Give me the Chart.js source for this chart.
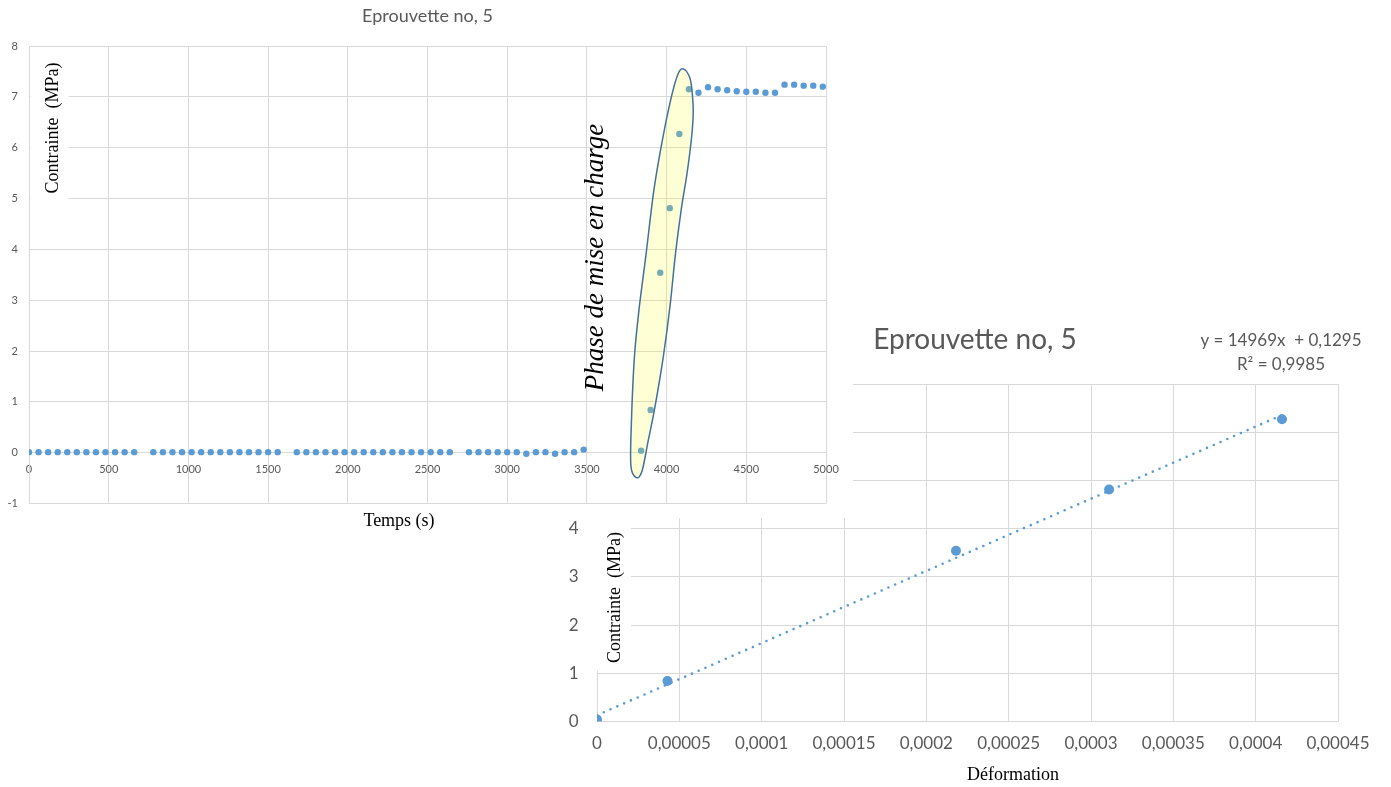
<!DOCTYPE html>
<html>
<head>
<meta charset="utf-8">
<script src="https://cdn.jsdelivr.net/npm/chart.js@4.4.0/dist/chart.umd.min.js"></script>
<style>
  html, body { margin: 0; padding: 0; background: #fff; }
  body { width: 1391px; height: 787px; position: relative; overflow: hidden; }
  #strainChart { position: absolute; left: 540px; top: 300px; }
  #timeChart { position: absolute; left: 0; top: 0; z-index: 2; }
</style>
</head>
<body>
<canvas id="strainChart" width="851" height="487"></canvas>
<canvas id="timeChart" width="860" height="540"></canvas>
<script>
// ---- Test no. 5: stress versus time ----
const timeSeconds = [
  0, 60, 120, 180, 240, 300, 360, 420, 480, 540, 600, 660,
  780, 840, 900, 960, 1020, 1080, 1140, 1200, 1260, 1320, 1380, 1440, 1500, 1560,
  1680, 1740, 1800, 1860, 1920, 1980, 2040, 2100, 2160, 2220, 2280, 2340, 2400, 2460, 2520, 2580, 2640,
  2760, 2820, 2880, 2940, 3000, 3060, 3120, 3180, 3240, 3300, 3360, 3420, 3480,
  3840, 3900, 3960, 4020, 4080, 4140, 4200, 4260, 4320, 4380, 4440, 4500, 4560, 4620, 4680,
  4740, 4800, 4860, 4920, 4980
];
const stressMPa = [
  0.01, 0.01, 0.01, 0.01, 0.01, 0.01, 0.01, 0.01, 0.01, 0.01, 0.01, 0.01,
  0.01, 0.01, 0.01, 0.01, 0.01, 0.01, 0.01, 0.01, 0.01, 0.01, 0.01, 0.01, 0.01, 0.01,
  0.01, 0.01, 0.01, 0.01, 0.01, 0.01, 0.01, 0.01, 0.01, 0.01, 0.01, 0.01, 0.01, 0.01, 0.01, 0.01, 0.01,
  0.01, 0.01, 0.01, 0.01, 0.01, 0.01, -0.02, 0.01, 0.01, -0.02, 0.01, 0.01, 0.06,
  0.04, 0.84, 3.54, 4.81, 6.27, 7.15, 7.08, 7.19, 7.15, 7.13, 7.11, 7.10, 7.10, 7.08, 7.08,
  7.24, 7.24, 7.22, 7.22, 7.20
];

// Outline of the loading-phase highlight, in (time s, stress MPa)
const loadingOutline = [
  [4105, 7.55], [4145, 7.38], [4160, 7.10], [4167, 6.70], [4157, 6.21], [4128, 5.49],
  [4094, 4.83], [4056, 3.92], [4021, 2.87], [3979, 1.88], [3927, 0.90], [3885, 0.24],
  [3846, -0.36], [3810, -0.49], [3776, -0.26], [3779, 0.58], [3798, 1.88], [3829, 2.87],
  [3869, 3.85], [3920, 5.16], [3973, 6.14], [4030, 7.00], [4073, 7.46]
];

// ---- Test no. 5: stress versus strain during loading ----
const strainLoading = [0, 0.0000428, 0.000218, 0.000311, 0.000416];
const stressLoading = [0.04, 0.84, 3.54, 4.81, 6.27];
const trendSlope = 14969;
const trendIntercept = 0.1295;
const trendR2 = 0.9985;

// Axis ranges
const timeAxis = { min: 0, max: 5000, step: 500 };
const stressAxisTime = { min: -1, max: 8, step: 1 };
const strainAxis = { min: 0, max: 0.00045, step: 0.00005 };
const stressAxisStrain = { min: 0, max: 7, step: 1 };

const chartTitle = 'Eprouvette no, 5';
const stressTitle = 'Contrainte  (MPa)';
const timeTitle = 'Temps (s)';
const strainTitle = 'Déformation';
const phaseLabel = 'Phase de mise en charge';

const BLUE = '#5B9BD5';
const GRID = '#D9D9D9';
const TEXT = '#595959';

const frNum = v => String(+Number(v).toFixed(6)).replace('.', ',');

function closedSpline(ctx, pts) {
  const n = pts.length;
  ctx.beginPath();
  ctx.moveTo(pts[0][0], pts[0][1]);
  for (let i = 0; i < n; i++) {
    const p0 = pts[(i - 1 + n) % n], p1 = pts[i], p2 = pts[(i + 1) % n], p3 = pts[(i + 2) % n];
    ctx.bezierCurveTo(
      p1[0] + (p2[0] - p0[0]) / 6, p1[1] + (p2[1] - p0[1]) / 6,
      p2[0] - (p3[0] - p1[0]) / 6, p2[1] - (p3[1] - p1[1]) / 6,
      p2[0], p2[1]
    );
  }
  ctx.closePath();
}

function rotatedText(ctx, text, x, y, font, color, baseline) {
  ctx.save();
  ctx.translate(x, y);
  ctx.rotate(-Math.PI / 2);
  ctx.font = font;
  ctx.fillStyle = color;
  ctx.textAlign = 'center';
  ctx.textBaseline = baseline || 'middle';
  ctx.fillText(text, 0, 0);
  ctx.restore();
}

function plainText(ctx, text, x, y, font, color) {
  ctx.save();
  ctx.font = font;
  ctx.fillStyle = color;
  ctx.textAlign = 'center';
  ctx.textBaseline = 'middle';
  ctx.fillText(text, x, y);
  ctx.restore();
}

const timeDecor = {
  id: 'timeDecor',
  beforeDraw(chart) {
    const ctx = chart.ctx;
    ctx.save();
    ctx.fillStyle = '#fff';
    ctx.fillRect(0, 0, 853, 518);
    ctx.restore();
  },
  beforeDatasetsDraw(chart) {
    const { ctx, chartArea: a } = chart;
    ctx.save();
    ctx.fillStyle = '#fff';
    ctx.fillRect(a.left + 1.5, a.top + 9, 38, 148);
    ctx.restore();
    rotatedText(ctx, stressTitle, a.left + 24, a.top + 82, '18px "Liberation Serif"', '#000');
  },
  afterDatasetsDraw(chart) {
    const { ctx, scales: { x, y } } = chart;
    const pts = loadingOutline.map(([t, s]) => [x.getPixelForValue(t), y.getPixelForValue(s)]);
    ctx.save();
    closedSpline(ctx, pts);
    ctx.fillStyle = 'rgba(255, 255, 0, 0.16)';
    ctx.fill();
    ctx.lineWidth = 1.5;
    ctx.strokeStyle = '#41719C';
    ctx.stroke();
    ctx.restore();
  },
  afterDraw(chart) {
    const { ctx, chartArea: a } = chart;
    plainText(ctx, chartTitle, (a.left + a.right) / 2, a.top - 30, '18px Lato', TEXT);
    plainText(ctx, timeTitle, a.left + 370, a.bottom + 17.5, '18px "Liberation Serif"', '#000');
    rotatedText(ctx, phaseLabel, a.left + 574, a.top + 211.5, 'italic 27px "Liberation Serif"', '#000', 'alphabetic');
  }
};

new Chart(document.getElementById('timeChart'), {
  type: 'scatter',
  data: {
    datasets: [{
      data: timeSeconds.map((t, i) => ({ x: t, y: stressMPa[i] })),
      pointRadius: 3.2,
      pointBackgroundColor: BLUE,
      pointBorderWidth: 0,
      showLine: false
    }]
  },
  options: {
    responsive: false,
    animation: false,
    devicePixelRatio: 1,
    layout: { padding: { top: 46, left: 0, right: 34, bottom: 36.5 } },
    plugins: { legend: { display: false }, tooltip: { enabled: false }, title: { display: false } },
    scales: {
      x: {
        type: 'linear',
        position: { y: 0 },
        min: timeAxis.min, max: timeAxis.max,
        ticks: { stepSize: timeAxis.step, color: TEXT, font: { family: 'Lato', size: 11 }, padding: 10,
                 maxRotation: 0, autoSkip: false, callback: v => String(v) },
        grid: { color: GRID, drawTicks: false },
        border: { color: GRID },
        afterFit: s => { s.height = 0; }
      },
      y: {
        type: 'linear',
        min: stressAxisTime.min, max: stressAxisTime.max,
        ticks: { stepSize: stressAxisTime.step, color: TEXT, font: { family: 'Lato', size: 11 }, padding: 11,
                 callback: v => String(v) },
        grid: { color: GRID, drawTicks: false },
        border: { color: GRID },
        afterFit: s => { s.width = 29; }
      }
    }
  },
  plugins: [timeDecor]
});

const strainDecor = {
  id: 'strainDecor',
  beforeDraw(chart) {
    const ctx = chart.ctx;
    ctx.save();
    ctx.fillStyle = '#fff';
    ctx.fillRect(0, 0, chart.width, chart.height);
    ctx.restore();
  },
  beforeDatasetsDraw(chart) {
    const { ctx, chartArea: a } = chart;
    ctx.save();
    ctx.fillStyle = '#fff';
    ctx.fillRect(a.left - 11, a.top + 120, 45, a.bottom - a.top - 171);
    ctx.restore();
    rotatedText(ctx, stressTitle, a.left + 18, a.top + 213.5, '18px "Liberation Serif"', '#000');
  },
  afterDraw(chart) {
    const { ctx, chartArea: a } = chart;
    plainText(ctx, chartTitle, a.left + 378, a.top - 44, '28px Lato', TEXT);
    plainText(ctx, 'y = ' + frNum(trendSlope) + 'x  + ' + frNum(trendIntercept), a.left + 684, a.top - 43, '17px Lato', TEXT);
    plainText(ctx, 'R² = ' + frNum(trendR2), a.left + 684, a.top - 19, '17px Lato', TEXT);
    plainText(ctx, strainTitle, a.left + 416, a.bottom + 53.5, '18px "Liberation Serif"', '#000');
  }
};

const strainEnd = Math.max(...strainLoading);
new Chart(document.getElementById('strainChart'), {
  type: 'scatter',
  data: {
    datasets: [
      {
        data: strainLoading.map((e, i) => ({ x: e, y: stressLoading[i] })),
        pointRadius: 5,
        pointBackgroundColor: BLUE,
        pointBorderWidth: 0,
        showLine: false
      },
      {
        // linear trend y = a*x + b over the measured strain range
        data: [0, strainEnd].map(e => ({ x: e, y: trendSlope * e + trendIntercept })),
        showLine: true,
        pointRadius: 0,
        borderColor: BLUE,
        borderWidth: 2.6,
        borderDash: [0, 7.4],
        borderCapStyle: 'round',
        fill: false
      }
    ]
  },
  options: {
    responsive: false,
    animation: false,
    devicePixelRatio: 1,
    layout: { padding: { top: 84, left: 0, right: 53, bottom: 0 } },
    plugins: { legend: { display: false }, tooltip: { enabled: false }, title: { display: false } },
    scales: {
      x: {
        type: 'linear',
        min: strainAxis.min, max: strainAxis.max,
        ticks: { stepSize: strainAxis.step, color: TEXT, font: { family: 'Lato', size: 17 }, padding: 12,
                 maxRotation: 0, autoSkip: false, callback: v => frNum(v) },
        grid: { color: GRID, drawTicks: false },
        border: { color: GRID },
        afterFit: s => { s.height = 65.5; }
      },
      y: {
        type: 'linear',
        min: stressAxisStrain.min, max: stressAxisStrain.max,
        ticks: { stepSize: stressAxisStrain.step, color: TEXT, font: { family: 'Lato', size: 17 }, padding: 18.5,
                 callback: v => frNum(v) },
        grid: { color: GRID, drawTicks: false },
        border: { color: GRID },
        afterFit: s => { s.width = 57; }
      }
    }
  },
  plugins: [strainDecor]
});
</script>
</body>
</html>
